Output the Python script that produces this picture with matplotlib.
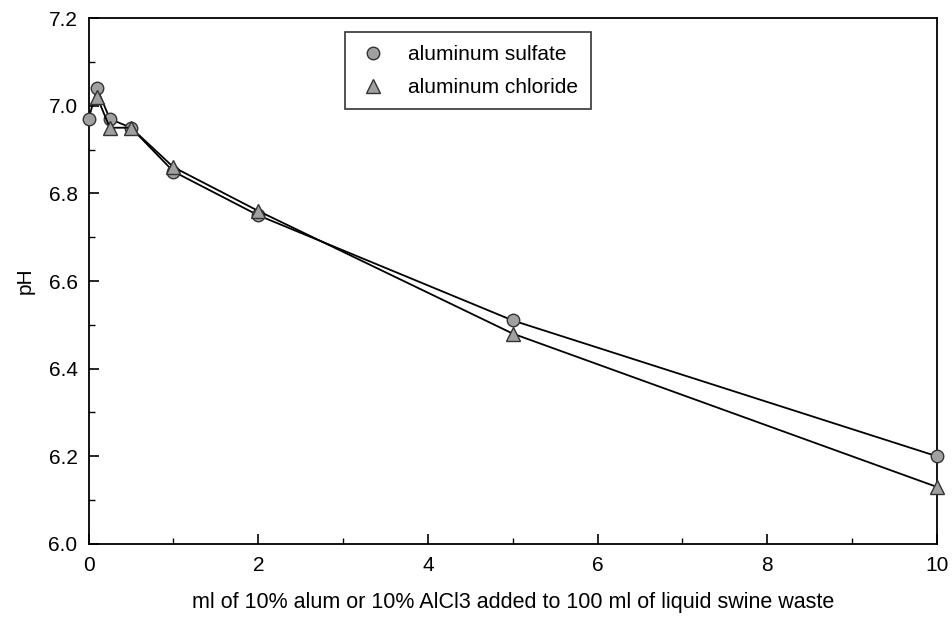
import numpy as np
import matplotlib.pyplot as plt
from matplotlib.ticker import MultipleLocator

plt.rcParams['font.family'] = ['Liberation Sans', 'DejaVu Sans']

# ml of reagent added
x_sulfate = [0, 0.1, 0.25, 0.5, 1, 2, 5, 10]
ph_sulfate = [6.97, 7.04, 6.97, 6.95, 6.85, 6.75, 6.51, 6.20]
x_chloride = [0.1, 0.25, 0.5, 1, 2, 5, 10]
ph_chloride = [7.02, 6.95, 6.95, 6.86, 6.76, 6.48, 6.13]

fig = plt.figure(figsize=(9.53, 6.28), dpi=100)
ax = fig.add_axes([0.093, 0.134, 0.89, 0.837])

ax.plot(x_sulfate, ph_sulfate, color='black', lw=1.3, marker='o', ms=9,
        mfc='#a0a0a0', mec='#333333', mew=1.0, label='aluminum sulfate', clip_on=False, zorder=3)
ax.plot(x_chloride, ph_chloride, color='black', lw=1.3, marker='^', ms=10,
        mfc='#a0a0a0', mec='#333333', mew=1.0, label='aluminum chloride', clip_on=False, zorder=3)

ax.set_xlim(0, 10)
ax.set_ylim(6.0, 7.2)
ax.xaxis.set_major_locator(MultipleLocator(2))
ax.xaxis.set_minor_locator(MultipleLocator(1))
ax.yaxis.set_major_locator(MultipleLocator(0.2))
ax.yaxis.set_minor_locator(MultipleLocator(0.1))
ax.yaxis.set_major_formatter(plt.FormatStrFormatter('%.1f'))
ax.tick_params(which='both', direction='in', top=False, right=False, labelsize=15)
ax.tick_params(which='major', length=7, width=1.2)
ax.tick_params(which='minor', length=4, width=1.0)
ax.tick_params(axis='x', pad=9)
ax.tick_params(axis='y', pad=8)
for s in ax.spines.values():
    s.set_linewidth(1.3)

ax.set_xlabel('ml of 10% alum or 10% AlCl3 added to 100 ml of liquid swine waste', fontsize=15.5, labelpad=12)
ax.set_ylabel('pH', fontsize=15, labelpad=10)

leg = ax.legend(loc='upper left', bbox_to_anchor=(0.302, 0.973), borderaxespad=0, fontsize=15,
                frameon=True, fancybox=False, edgecolor='black', handlelength=1.5,
                handletextpad=0.94, borderpad=0.6, labelspacing=0.67)
leg.get_frame().set_linewidth(1.2)
for h in leg.legend_handles:
    h.set_linestyle('')

fig.savefig('out.png', dpi=100)
